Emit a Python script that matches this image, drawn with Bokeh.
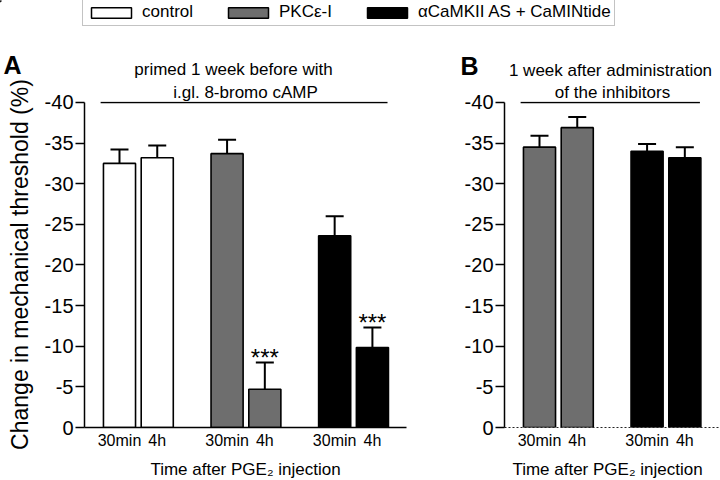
from bokeh.plotting import figure
from bokeh.models import (Range1d, FixedTicker, Whisker, TeeHead, ColumnDataSource,
                          Legend, LegendItem)
from bokeh.layouts import column, row
from bokeh.embed import file_html
from bokeh.resources import INLINE
from bokeh.core.properties import value

FONT = "Liberation Sans"

# ---------------- data ----------------
times = ["30min", "4h"]
groups = ["control", "PKCε-I", "αCaMKII AS + CaMINtide"]
group_colors = ["white", "#6e6e6e", "black"]

# panel A: primed 1 week before with i.gl. 8-bromo cAMP
groups_a = ["control", "PKCε-I", "αCaMKII AS + CaMINtide"]
mean_a = [-32.5, -33.2, -33.7, -4.7, -23.6, -9.85]
sem_a = [1.7, 1.5, 1.7, 3.3, 2.4, 2.45]
sig_a = ["", "", "", "***", "", "***"]

# panel B: 1 week after administration of the inhibitors
groups_b = ["PKCε-I", "αCaMKII AS + CaMINtide"]
mean_b = [-34.5, -36.9, -34.0, -33.2]
sem_b = [1.4, 1.3, 0.9, 1.3]

y_ticks = [0, -5, -10, -15, -20, -25, -30, -35, -40]
title_a = ["primed 1 week before with", "i.gl. 8-bromo cAMP"]
title_b = ["1 week after administration", "of the inhibitors"]
panel_letters = ["A", "B"]
x_title = "Time after PGE\u2082 injection"
y_title = "Change in mechanical threshold (%)"

# ---------------- layout constants ----------------
PAIR = 20      # distance between 30min and 4h bars
GSTEP = 57     # distance between groups
BAR_W = 17
TOP_H = 80
PANEL_H = 376
BOT_H = 24
Y_TOP = -40.12


def build_panel(grp, means, sems, sig, width, x_end, border_left, border_right,
                title_line2, title_offset, show_ylabel, dotted_base):
    xs, tops, uppers, cols, labels, sigs = [], [], [], [], [], []
    k = 0
    for gi, g in enumerate(grp):
        for ti, t in enumerate(times):
            xs.append(gi * GSTEP + ti * PAIR)
            tops.append(means[k])
            uppers.append(means[k] - sems[k])
            cols.append(group_colors[groups.index(g)])
            labels.append(t)
            sigs.append(sig[k] if sig else "")
            k += 1
    src = ColumnDataSource(dict(x=xs, top=tops, upper=uppers, color=cols, sig=sigs))

    p = figure(width=width, height=PANEL_H, x_range=Range1d(-18.54, x_end),
               y_range=Range1d(0, Y_TOP), toolbar_location=None, output_backend="svg",
               min_border_left=border_left, min_border_right=border_right,
               min_border_top=21, min_border_bottom=29, outline_line_color=None,
               title=title_line2)
    p.grid.visible = False
    p.title.align = "center"
    p.title.offset = title_offset
    p.title.standoff = 0
    p.title.text_font = FONT
    p.title.text_font_size = "17px"
    p.title.text_font_style = "normal"
    p.title.text_color = "black"

    p.vbar(x="x", top="top", bottom=0, width=BAR_W, fill_color="color",
           line_color="black", line_width=1.6, source=src)
    w = Whisker(base="x", lower="top", upper="upper", source=src, dimension="height",
                line_color="black", line_width=2,
                upper_head=TeeHead(size=18, line_width=2, line_color="black"),
                lower_head=None)
    p.add_layout(w)

    if sig:
        p.text(x="x", y="upper", text="sig", source=src, text_align="center",
               text_baseline="alphabetic", y_offset=-5, text_font=value(FONT),
               text_font_size="24px", text_color="black")

    # bracket line under the panel heading
    p.segment(x0=[xs[0] - 10], y0=[y_ticks[-1]], x1=[xs[-1] + 8], y1=[y_ticks[-1]],
              line_color="black", line_width=1.5)

    # y axis
    ya = p.yaxis[0]
    ya.ticker = FixedTicker(ticks=y_ticks)
    ya.major_label_overrides = {t: str(t) for t in y_ticks}
    ya.bounds = (y_ticks[-1], y_ticks[0])
    ya.major_label_text_font = FONT
    ya.major_label_text_font_size = "20px"
    ya.major_label_text_color = "black"
    ya.major_label_standoff = 2
    ya.major_tick_out = 9
    ya.major_tick_in = 0
    ya.major_tick_line_width = 1.5
    ya.minor_tick_line_color = None
    ya.minor_tick_out = 0
    ya.axis_line_width = 1.5
    if show_ylabel:
        ya.axis_label = y_title
        ya.axis_label_text_font = FONT
        ya.axis_label_text_font_size = "23px"
        ya.axis_label_text_font_style = "normal"
        ya.axis_label_text_color = "black"
        ya.axis_label_standoff = 9

    # x axis (its title is drawn in the strip below the panels)
    xa = p.xaxis[0]
    xa.ticker = FixedTicker(ticks=xs)
    xa.major_label_overrides = {x: l for x, l in zip(xs, labels)}
    xa.major_tick_line_color = None
    xa.major_tick_out = 0
    xa.major_tick_in = 0
    xa.minor_tick_line_color = None
    xa.minor_tick_out = 0
    xa.major_label_text_font = FONT
    xa.major_label_text_font_size = "16px"
    xa.major_label_text_color = "black"
    xa.major_label_standoff = 4
    if dotted_base:
        xa.axis_line_dash = "2 2"
        xa.axis_line_width = 1
        xa.axis_line_color = "#222222"
    else:
        xa.axis_line_width = 1.5
    return p


pA = build_panel(groups_a, mean_a, sem_a, sig_a, 420, 152.06, 84, 14,
                 title_a[1], -17, True, False)
pB = build_panel(groups_b, mean_b, sem_b, None, 300, 95.9, 84, 0,
                 title_b[1], -2, False, True)

# ---------------- top strip: legend, panel letters, first heading lines ----------------
pt = figure(width=720, height=TOP_H, x_range=Range1d(0, 720), y_range=Range1d(TOP_H, 0),
            toolbar_location=None, output_backend="svg", min_border=0,
            outline_line_color=None, x_axis_location=None, y_axis_location=None,
            title_location=None)
pt.grid.visible = False
items = []
for g, c in zip(groups, group_colors):
    r = pt.vbar(x=[-100], top=[0], bottom=[1], width=1, fill_color=c,
                line_color="black", line_width=1.5)
    items.append(LegendItem(label=g, renderers=[r]))
leg = Legend(items=items, orientation="horizontal", location=(82, TOP_H - 26),
             glyph_width=50, glyph_height=13, label_standoff=6, spacing=30, padding=3,
             margin=0, border_line_color="#888888", border_line_width=1.5,
             label_text_font=FONT, label_text_font_size="17px", label_text_color="black",
             background_fill_color="white", background_fill_alpha=1)
pt.add_layout(leg)

pt.text(x=[3, 460], y=[64, 65], text=panel_letters, text_align="left",
        text_baseline="alphabetic", text_font=value(FONT), text_font_size="25px",
        text_font_style="bold", text_color="black")
pt.text(x=[233, 610], y=[69, 70], text=[title_a[0], title_b[0]], text_align="center",
        text_baseline="middle", text_font=value(FONT), text_font_size="17px",
        text_color="black")

# ---------------- bottom strip: x-axis titles ----------------
pb = figure(width=720, height=BOT_H, x_range=Range1d(0, 720), y_range=Range1d(BOT_H, 0),
            toolbar_location=None, output_backend="svg", min_border=0,
            outline_line_color=None, x_axis_location=None, y_axis_location=None,
            title_location=None)
pb.grid.visible = False
pb.text(x=[245, 607], y=[13, 13], text=[x_title, x_title], text_align="center",
        text_baseline="middle", text_font=value(FONT), text_font_size="17px",
        text_color="black")

layout = column(pt, row(pA, pB), pb)
open("out.html", "w").write(file_html(layout, INLINE))
